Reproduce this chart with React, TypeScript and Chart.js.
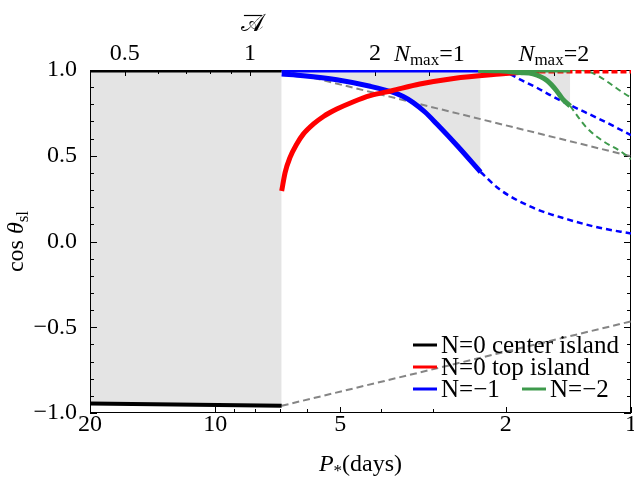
import { useEffect, useRef } from 'react';
import { Chart, registerables } from 'chart.js';

Chart.register(...registerables);

// ---------- data (P in days, value = cos theta_sl) ----------
const blackTopP = [20, 6.92];
const blackTopC = [1.0, 1.0];
const blackBotP = [20, 6.92];
const blackBotC = [-0.945, -0.958];

const redP = [6.92, 6.79, 6.61, 6.37, 6.14, 5.81, 5.49, 5.1, 4.65, 4.24, 3.76, 3.22, 2.67, 2.07, 1.85, 1.66];
const redC = [0.294, 0.402, 0.489, 0.567, 0.626, 0.684, 0.729, 0.772, 0.815, 0.85, 0.879, 0.918, 0.951, 0.977, 0.986, 0.993];
const redDashP = [1.66, 1.0];
const redDashC = [0.992, 0.992];

const blueTopP = [6.92, 2.3];
const blueTopC = [1.0, 1.0];
const blueLowP = [6.92, 6.14, 5.1, 4.24, 3.76, 3.53, 3.34, 3.13, 2.93, 2.62, 2.3];
const blueLowC = [0.977, 0.967, 0.943, 0.905, 0.872, 0.845, 0.81, 0.755, 0.685, 0.56, 0.405];
const blueDashLowP = [2.3, 2.07, 1.72, 1.42, 1.19, 1.0];
const blueDashLowC = [0.405, 0.304, 0.197, 0.129, 0.08, 0.047];
const blueDashUpP = [2.3, 2.1, 1.95, 1.85, 1.68, 1.54, 1.4, 1.17, 1.0];
const blueDashUpC = [1.0, 0.995, 0.975, 0.945, 0.895, 0.845, 0.795, 0.705, 0.62];

const greenTopP = [2.33, 1.4];
const greenTopC = [1.0, 1.0];
const greenLowP = [2.33, 2.07, 1.85, 1.72, 1.59, 1.51, 1.46, 1.4];
const greenLowC = [0.998, 0.995, 0.985, 0.977, 0.937, 0.879, 0.83, 0.79];
const greenDashLowP = [1.4, 1.28, 1.17, 1.063, 1.0];
const greenDashLowC = [0.79, 0.665, 0.587, 0.528, 0.48];
const greenDashUpP = [1.4, 1.33, 1.0];
const greenDashUpC = [1.0, 1.0, 0.84];

const grayDashLowP = [6.92, 1.0];
const grayDashLowC = [-0.958, -0.466];
const grayDashUpP = [6.92, 1.0];
const grayDashUpC = [1.0, 0.497];

// ---------- axes ----------
const pMin = 1;
const pMax = 20;
const aFactor = 8.25; // Abar = aFactor / P
const bottomLabels = [20, 10, 5, 2, 1];
const bottomMinor = [9, 8, 7, 6, 4, 3];
const topLabels = [0.5, 1, 2];
const topMinor = [0.6, 0.7, 0.8, 0.9];
const nmaxA = [2.7, 5.38];
const nmaxLabels = ['1', '2'];
const yLabels = [-1, -0.5, 0, 0.5, 1];

const legendLabels = ['N=0 center island', 'N=0 top island', 'N=\u22121', 'N=\u22122'];

const SERIF = "'Liberation Serif', 'DejaVu Serif', 'Times New Roman', serif";
const GRAY_FILL = '#e4e4e4';
const GRAY_LINE = '#858585';
const RED = '#ff0000';
const BLUE = '#0000ff';
const GREEN = '#3e9a4c';

Chart.defaults.font.family = SERIF;

const pts = (P: number[], C: number[]) => P.map((p, i) => ({ x: p, y: C[i] }));

type Part = { t: string; f: string; dy?: number };
function drawParts(ctx: CanvasRenderingContext2D, parts: Part[], cx: number, base: number) {
  let w = 0;
  for (const p of parts) {
    ctx.font = p.f;
    w += ctx.measureText(p.t).width;
  }
  let x = cx - w / 2;
  for (const p of parts) {
    ctx.font = p.f;
    ctx.fillText(p.t, x, base + (p.dy || 0));
    x += ctx.measureText(p.t).width;
  }
}

const framePlugin = {
  id: 'frame',
  beforeDatasetsDraw(chart: any) {
    const ctx: CanvasRenderingContext2D = chart.ctx;
    const { left, right, top, bottom } = chart.chartArea;
    const xs = chart.scales.x;
    const x2 = chart.scales.x2;
    const ys = chart.scales.y;
    ctx.save();
    ctx.strokeStyle = '#000';
    ctx.lineWidth = 1;
    ctx.setLineDash([]);
    ctx.strokeRect(left + 0.5, top + 0.5, right - left - 1, bottom - top - 1);
    const tick = (a: number, b: number, c: number, d: number) => {
      ctx.beginPath();
      ctx.moveTo(a, b);
      ctx.lineTo(c, d);
      ctx.stroke();
    };
    for (const v of bottomLabels) {
      const x = Math.round(xs.getPixelForValue(v)) + 0.5;
      tick(x, bottom, x, bottom - 6);
    }
    for (const v of bottomMinor) {
      const x = Math.round(xs.getPixelForValue(v)) + 0.5;
      tick(x, bottom, x, bottom - 4);
    }
    for (const v of [...topLabels, ...nmaxA]) {
      const x = Math.round(x2.getPixelForValue(v)) + 0.5;
      tick(x, top, x, top + 6);
    }
    for (const v of topMinor) {
      const x = Math.round(x2.getPixelForValue(v)) + 0.5;
      tick(x, top, x, top + 4);
    }
    for (let i = -10; i <= 10; i++) {
      const y = Math.round(ys.getPixelForValue(i / 10)) + 0.5;
      const len = i % 5 === 0 ? 7 : 4;
      tick(left, y, left + len, y);
      tick(right, y, right - len, y);
    }
    ctx.restore();
  },
};

const textPlugin = {
  id: 'texts',
  afterDraw(chart: any) {
    const ctx: CanvasRenderingContext2D = chart.ctx;
    const { left, right, top, bottom } = chart.chartArea;
    const x2 = chart.scales.x2;
    ctx.save();
    ctx.fillStyle = '#000';
    ctx.strokeStyle = '#000';
    ctx.textAlign = 'left';
    ctx.textBaseline = 'alphabetic';
    nmaxA.forEach((a, i) => {
      const x = x2.getPixelForValue(a);
      drawParts(ctx, [
        { t: 'N', f: `italic 24px ${SERIF}` },
        { t: 'max', f: `17px ${SERIF}`, dy: 4 },
        { t: '=' + nmaxLabels[i], f: `24px ${SERIF}` },
      ], x, 61);
    });
    // top axis title (A bar)
    const ax = x2.getPixelForValue(1) + 3;
    ctx.font = `24px ${SERIF}`;
    const aw = ctx.measureText('\u{1D49C}').width;
    ctx.fillText('\u{1D49C}', ax - aw / 2, 31);
    ctx.lineWidth = 1.2;
    ctx.beginPath();
    ctx.moveTo(ax - 9, 15.5);
    ctx.lineTo(ax + 9, 15.5);
    ctx.stroke();
    // x title
    drawParts(ctx, [
      { t: 'P', f: `italic 24px ${SERIF}` },
      { t: '*', f: `17px ${SERIF}`, dy: 5 },
      { t: '(days)', f: `24px ${SERIF}` },
    ], (left + right) / 2, 471);
    // y title
    ctx.save();
    ctx.translate(23, (top + bottom) / 2);
    ctx.rotate(-Math.PI / 2);
    drawParts(ctx, [
      { t: 'cos ', f: `24px ${SERIF}` },
      { t: '\u03B8', f: `italic 24px ${SERIF}` },
      { t: 'sl', f: `17px ${SERIF}`, dy: 5 },
    ], 0, 0);
    ctx.restore();
    // legend
    const legendColors = ['#000000', RED, BLUE, GREEN];
    const legendPos = [
      [413, 345],
      [413, 367],
      [413, 389],
      [522, 389],
    ];
    ctx.lineWidth = 3;
    ctx.font = `25px ${SERIF}`;
    ctx.textBaseline = 'middle';
    legendLabels.forEach((lab, i) => {
      const [lx, ly] = legendPos[i];
      ctx.strokeStyle = legendColors[i];
      ctx.beginPath();
      ctx.moveTo(lx, ly);
      ctx.lineTo(lx + 24, ly);
      ctx.stroke();
      ctx.fillText(lab, lx + 28, ly + 1);
    });
    ctx.restore();
  },
};

export default function App() {
  const ref = useRef<HTMLCanvasElement | null>(null);
  useEffect(() => {
    if (!ref.current) return;
    const base = { pointRadius: 0, pointHoverRadius: 0, fill: false, cubicInterpolationMode: 'monotone' as const };
    const dash = (data: any, color: string, width: number, d: number[], order: number) => ({
      ...base, data, borderColor: color, borderWidth: width, borderDash: d, order,
    });
    const solid = (data: any, color: string, width: number, order: number, fillGray = false) => ({
      ...base,
      data,
      borderColor: color,
      borderWidth: width,
      order,
      fill: fillGray ? { value: 1 } : false,
      backgroundColor: GRAY_FILL,
    });
    const tickFont = { family: SERIF, size: 24 };
    const chart = new Chart(ref.current, {
      type: 'line',
      data: {
        datasets: [
          dash(pts(grayDashLowP, grayDashLowC), GRAY_LINE, 2, [7, 4], 8),
          dash(pts(grayDashUpP, grayDashUpC), GRAY_LINE, 2, [7, 4], 8),
          dash(pts(blueDashLowP, blueDashLowC), BLUE, 2.5, [6, 4], 7),
          dash(pts(blueDashUpP, blueDashUpC), BLUE, 2.5, [6, 4], 7),
          dash(pts(greenDashLowP, greenDashLowC), GREEN, 2, [6, 4], 7),
          dash(pts(greenDashUpP, greenDashUpC), GREEN, 2, [6, 4], 7),
          dash(pts(redDashP, redDashC), RED, 4.5, [6, 3], 6),
          solid(pts(blackBotP, blackBotC), '#000000', 4, 5, true),
          solid(pts(blackTopP, blackTopC), '#000000', 5, 5),
          solid(pts(blueLowP, blueLowC), BLUE, 5, 4, true),
          solid(pts(blueTopP, blueTopC), BLUE, 5, 4),
          solid(pts(redP, redC), RED, 5, 3),
          solid(pts(greenLowP, greenLowC), GREEN, 5, 2, true),
          solid(pts(greenTopP, greenTopC), GREEN, 5, 2),
        ] as any,
      },
      options: {
        animation: false,
        responsive: false,
        devicePixelRatio: 1,
        events: [],
        layout: { padding: { left: 0, right: 3, top: 0, bottom: 0 }, autoPadding: false },
        plugins: {
          legend: { display: false },
          tooltip: { enabled: false },
          filler: { drawTime: 'beforeDatasetsDraw' },
        } as any,
        scales: {
          x: {
            type: 'logarithmic',
            position: 'bottom',
            reverse: true,
            min: pMin,
            max: pMax,
            grid: { display: false },
            border: { display: false },
            ticks: {
              font: tickFont,
              color: '#000',
              padding: -11,
              maxRotation: 0,
              autoSkip: false,
              callback: (v: any) => String(v),
            },
            afterBuildTicks: (s: any) => {
              s.ticks = bottomLabels.map((v) => ({ value: v }));
            },
            afterFit: (s: any) => {
              s.height = 65;
            },
          },
          x2: {
            type: 'logarithmic',
            position: 'top',
            min: aFactor / pMax,
            max: aFactor / pMin,
            grid: { display: false },
            border: { display: false },
            ticks: {
              font: tickFont,
              color: '#000',
              padding: -6,
              maxRotation: 0,
              autoSkip: false,
              callback: (v: any) => String(v),
            },
            afterBuildTicks: (s: any) => {
              s.ticks = topLabels.map((v) => ({ value: v }));
            },
            afterFit: (s: any) => {
              s.height = 70;
            },
          },
          y: {
            type: 'linear',
            min: -1,
            max: 1,
            grid: { display: false },
            border: { display: false },
            ticks: {
              font: tickFont,
              color: '#000',
              padding: 5,
              callback: (v: any) => Number(v).toFixed(1).replace('-', '\u2212'),
            },
            afterBuildTicks: (s: any) => {
              s.ticks = yLabels.map((v) => ({ value: v }));
            },
            afterFit: (s: any) => {
              s.width = 90;
            },
          },
        } as any,
      },
      plugins: [framePlugin, textPlugin],
    });
    return () => chart.destroy();
  }, []);
  return (
    <div style={{ position: 'fixed', left: 0, top: 0, width: 634, height: 478, background: '#fff' }}>
      <canvas ref={ref} width={634} height={478} style={{ display: 'block' }} />
    </div>
  );
}
